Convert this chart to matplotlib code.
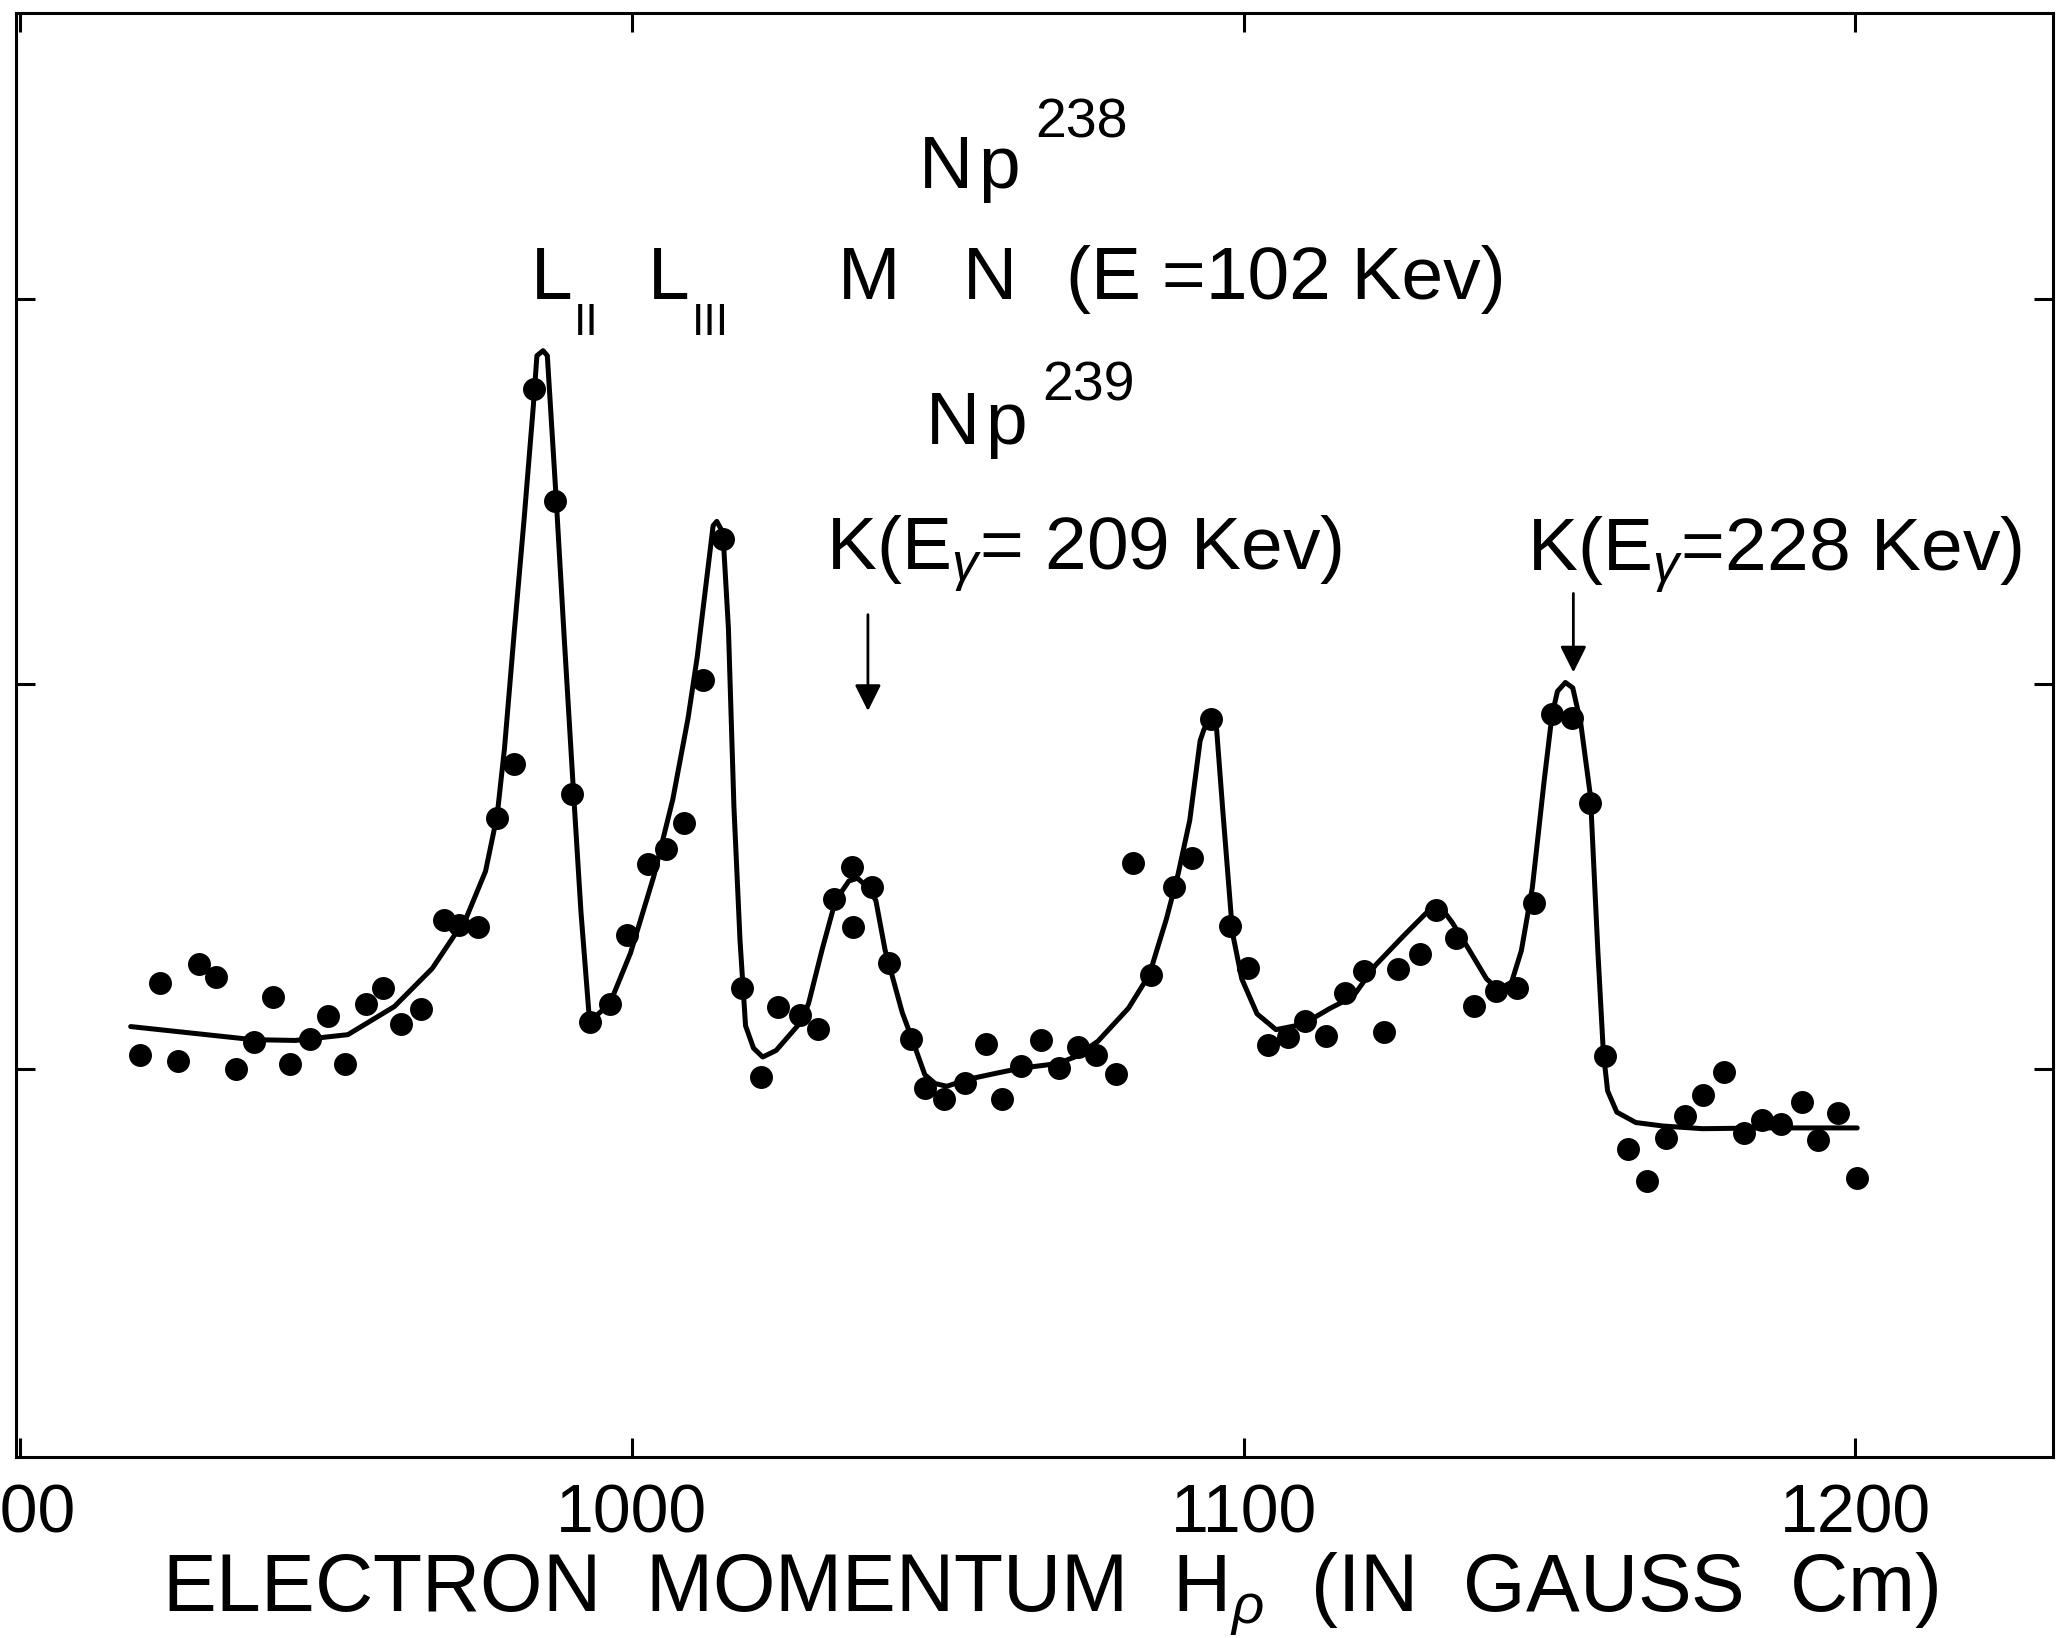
import numpy as np
import matplotlib
matplotlib.use("Agg")
import matplotlib.pyplot as plt

# measured counts (arbitrary units) vs. electron momentum H-rho
hrho = [919.7, 922.9, 925.9, 929.2, 932.0, 935.3, 938.2, 941.3, 944.1, 947.4,
        950.3, 953.2, 956.5, 959.4, 962.3, 965.5, 969.3, 971.8, 974.9, 978.0,
        980.8, 984.1, 987.5, 990.2, 993.2, 996.4, 999.2, 1002.7, 1005.6, 1008.6,
        1011.7, 1014.9, 1018.0, 1021.1, 1023.9, 1027.5, 1030.4, 1033.1, 1036.0, 1036.1,
        1039.3, 1042.1, 1045.6, 1047.9, 1051.1, 1054.4, 1057.9, 1060.5, 1063.6, 1066.9,
        1069.9, 1073.0, 1075.8, 1079.2, 1081.9, 1084.8, 1088.7, 1091.5, 1094.7, 1097.8,
        1100.8, 1104.0, 1107.2, 1110.0, 1113.5, 1116.6, 1119.7, 1122.9, 1125.3, 1128.8,
        1131.5, 1134.7, 1137.6, 1141.3, 1144.7, 1147.5, 1150.4, 1153.6, 1156.7, 1159.1,
        1162.8, 1166.0, 1169.0, 1172.2, 1175.1, 1178.6, 1181.8, 1184.8, 1187.9, 1191.3,
        1193.9, 1197.2, 1200.3]
counts = [1.037, 1.223, 1.022, 1.274, 1.240, 1.000, 1.070, 1.189, 1.015, 1.080,
          1.138, 1.015, 1.169, 1.210, 1.118, 1.157, 1.388, 1.375, 1.370, 1.652,
          1.792, 2.765, 2.474, 1.715, 1.124, 1.170, 1.349, 1.533, 1.571, 1.639,
          2.011, 2.376, 1.212, 0.980, 1.162, 1.142, 1.104, 1.443, 1.524, 1.370,
          1.472, 1.275, 1.078, 0.951, 0.922, 0.965, 1.066, 0.922, 1.009, 1.076,
          1.003, 1.058, 1.038, 0.989, 1.536, 1.246, 1.473, 1.549, 1.909, 1.371,
          1.262, 1.062, 1.085, 1.126, 1.087, 1.199, 1.255, 1.097, 1.260, 1.299,
          1.413, 1.340, 1.164, 1.203, 1.212, 1.432, 1.922, 1.912, 1.690, 1.035,
          0.794, 0.709, 0.821, 0.878, 0.933, 0.993, 0.836, 0.868, 0.858, 0.916,
          0.816, 0.886, 0.717]

# hand-drawn fitted curve, traced vertex by vertex
curve_x = [918.1, 938.1, 945.0, 953.6, 961.2, 967.4, 973.0, 976.1, 978.0, 979.2,
           980.8, 982.4, 983.9, 984.5, 985.5, 986.2, 987.7, 988.9, 990.5, 991.7,
           993.0, 993.6, 996.4, 999.8, 1003.6, 1006.7, 1009.2, 1010.7, 1013.3, 1013.9,
           1014.9, 1015.8, 1016.7, 1017.7, 1018.6, 1019.9, 1021.4, 1023.6, 1027.7, 1028.9,
           1031.1, 1033.3, 1035.5, 1036.9, 1038.6, 1039.9, 1041.4, 1044.2, 1046.1, 1047.9,
           1049.6, 1051.5, 1054.9, 1059.9, 1063.6, 1069.6, 1072.4, 1076.2, 1081.2, 1084.6,
           1087.4, 1089.3, 1091.2, 1092.9, 1093.5, 1094.7, 1095.6, 1096.6, 1098.2, 1099.7,
           1102.2, 1105.3, 1109.7, 1114.1, 1117.9, 1121.6, 1126.0, 1130.0, 1132.6, 1134.1,
           1136.6, 1139.7, 1141.6, 1143.8, 1145.4, 1147.2, 1149.1, 1150.4, 1151.3, 1152.6,
           1153.8, 1155.1, 1156.7, 1157.9, 1158.8, 1159.5, 1161.0, 1164.1, 1168.5, 1175.0,
           1186.0, 1200.3]
curve_y = [1.111, 1.077, 1.075, 1.090, 1.163, 1.262, 1.395, 1.514, 1.659, 1.833,
           2.136, 2.427, 2.719, 2.852, 2.865, 2.852, 2.467, 2.136, 1.714, 1.408,
           1.145, 1.131, 1.170, 1.302, 1.501, 1.700, 1.911, 2.070, 2.411, 2.422,
           2.393, 2.144, 1.681, 1.333, 1.113, 1.055, 1.032, 1.049, 1.124, 1.171,
           1.310, 1.438, 1.489, 1.496, 1.472, 1.438, 1.310, 1.148, 1.066, 0.986,
           0.963, 0.956, 0.974, 0.991, 1.003, 1.015, 1.032, 1.073, 1.159, 1.246,
           1.391, 1.507, 1.646, 1.853, 1.881, 1.918, 1.881, 1.672, 1.353, 1.235,
           1.144, 1.103, 1.117, 1.158, 1.189, 1.271, 1.344, 1.408, 1.413, 1.381,
           1.317, 1.235, 1.207, 1.226, 1.308, 1.472, 1.745, 1.918, 1.981, 2.004,
           1.990, 1.899, 1.708, 1.308, 1.044, 0.944, 0.889, 0.862, 0.853, 0.846,
           0.848, 0.848]

xticks = [900, 1000, 1100, 1200]
xtick_labels = ["900", "1000", "1100", "1200"]
yticks = [1, 2, 3]

plt.rcParams['font.family'] = ['Liberation Sans', 'DejaVu Sans']
plt.rcParams['mathtext.fontset'] = 'custom'
plt.rcParams['mathtext.rm'] = 'Liberation Sans'
plt.rcParams['mathtext.it'] = 'Liberation Sans:italic'

fig = plt.figure(figsize=(20.59, 16.38), dpi=100)
ax = fig.add_axes([0.0076, 0.1105, 0.9895, 0.8815])

ax.plot(curve_x, curve_y, color='black', lw=3.6, solid_joinstyle='round',
        solid_capstyle='round')
ax.plot(hrho, counts, 'o', color='black', ms=15.5)

ax.set_xlim(899.3, 1232.3)
ax.set_ylim(-0.006, 3.741)
ax.set_xticks(xticks)
ax.set_xticklabels(xtick_labels)
ax.set_yticks(yticks)
ax.tick_params(direction='in', length=14, width=2.2, top=True, right=True,
               labelleft=False, labelsize=49)
ax.tick_params(axis='x', pad=18)
for sp in ax.spines.values():
    sp.set_linewidth(2.2)

ax.set_xlabel(r"ELECTRON  MOMENTUM  H$_\rho$  (IN  GAUSS  Cm)", fontsize=58)
ax.xaxis.set_label_coords(0.5077, -0.1073)
ax.xaxis.label.set_va('baseline')

# line labels
big = 54
ax.text(1047.0, 3.288, "N", fontsize=big, va='baseline')
ax.text(1056.7, 3.288, "p", fontsize=big, va='baseline')
ax.text(1066.0, 3.417, "238", fontsize=40, va='baseline')
ax.text(983.5, 2.998, "L", fontsize=big, va='baseline')
ax.text(990.6, 2.906, "II", fontsize=32, va='baseline')
ax.text(1002.6, 2.998, "L", fontsize=big, va='baseline')
ax.text(1009.9, 2.906, "III", fontsize=32, va='baseline')
ax.text(1033.7, 2.998, "M", fontsize=big, va='baseline')
ax.text(1054.1, 2.998, "N", fontsize=big, va='baseline')
ax.text(1071.0, 2.998, "(E =102 Kev)", fontsize=big, va='baseline')
ax.text(1048.1, 2.624, "N", fontsize=big, va='baseline')
ax.text(1057.7, 2.624, "p", fontsize=big, va='baseline')
ax.text(1067.1, 2.736, "239", fontsize=40, va='baseline')
ax.text(1031.8, 2.296, r"K(E$_{\gamma}$= 209 Kev)", fontsize=big, va='baseline')
ax.text(1146.3, 2.292, r"K(E$_{\gamma}$=228 Kev)", fontsize=big, va='baseline')

arrow = dict(arrowstyle='-|>', lw=2.0, color='black', mutation_scale=40,
             shrinkA=0, shrinkB=0)
ax.annotate('', xy=(1038.6, 1.93), xytext=(1038.6, 2.18), arrowprops=arrow)
ax.annotate('', xy=(1153.9, 2.03), xytext=(1153.9, 2.235), arrowprops=arrow)

fig.savefig("out.png", dpi=100, facecolor='white')
